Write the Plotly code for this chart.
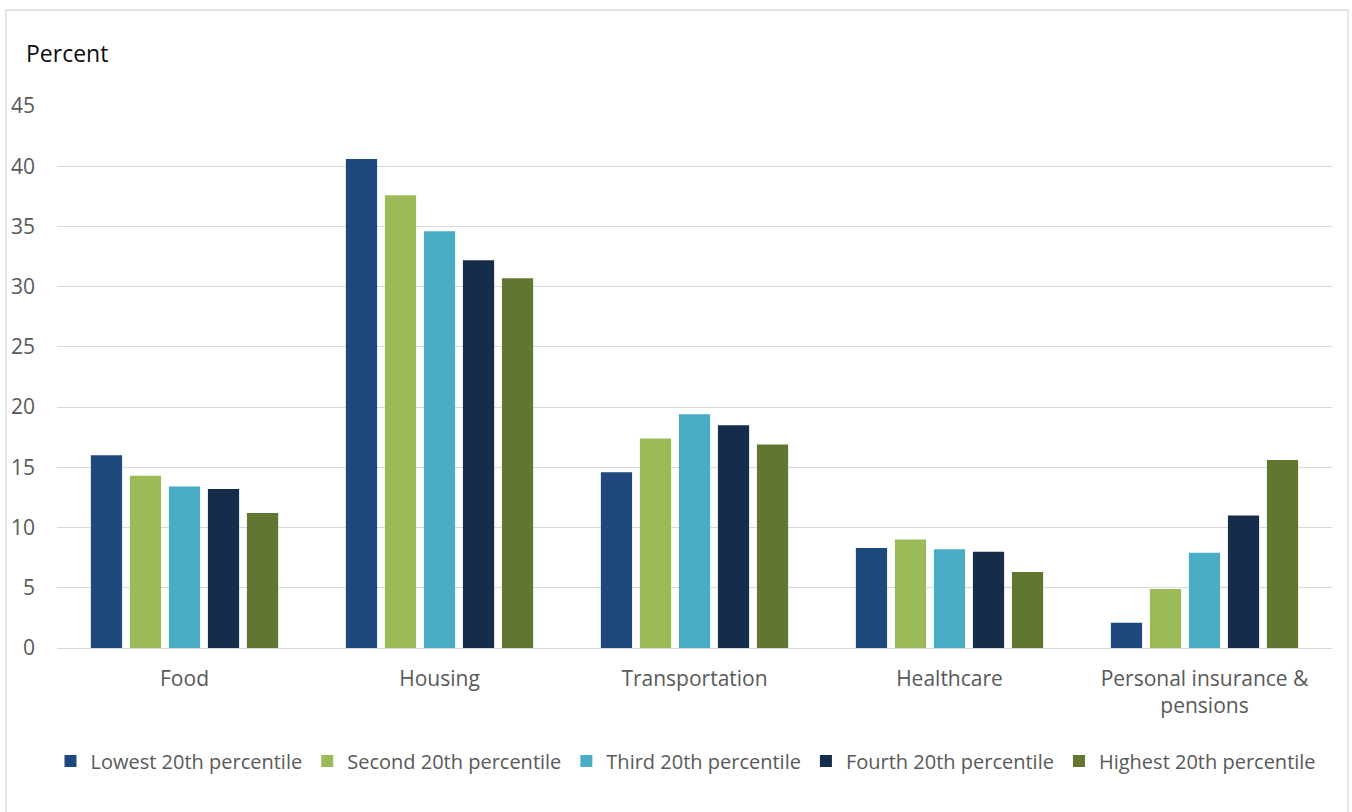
import plotly.graph_objects as go

categories = ["Food", "Housing", "Transportation", "Healthcare", "Personal insurance &<br>pensions"]
series_names = ["Lowest 20th percentile", "Second 20th percentile", "Third 20th percentile",
                "Fourth 20th percentile", "Highest 20th percentile"]
lowest = [16.0, 40.6, 14.6, 8.3, 2.1]
second = [14.3, 37.6, 17.4, 9.0, 4.9]
third = [13.4, 34.6, 19.4, 8.2, 7.9]
fourth = [13.2, 32.2, 18.5, 8.0, 11.0]
highest = [11.2, 30.7, 16.9, 6.3, 15.6]
y_ticks = [0, 5, 10, 15, 20, 25, 30, 35, 40, 45]

colors = ["#1F497D", "#9BBB59", "#4BACC6", "#152D4B", "#617630"]
series = [lowest, second, third, fourth, highest]

FONT = "Open Sans, sans-serif"

fig = go.Figure()
for name, vals, col in zip(series_names, series, colors):
    fig.add_trace(go.Bar(x=categories, y=vals, name=name,
                         marker=dict(color=col, line=dict(width=0))))

W, H = 1352, 812
L, R, T, B = 57, 20, 106, 164
pw = W - L - R
ph = H - T - B

def px_x(px):
    return (px - L) / pw

def px_y(py):
    return (H - B - py) / ph

fig.update_layout(
    width=W, height=H,
    margin=dict(l=L, r=R, t=T, b=B, pad=0),
    paper_bgcolor="white", plot_bgcolor="white",
    barmode="group", bargap=0.235, bargroupgap=0.2,
    font=dict(family=FONT, color="#595959", size=20),
    showlegend=True,
    legend=dict(orientation="h", x=px_x(686), xanchor="center",
                y=px_y(761), yanchor="middle",
                font=dict(family=FONT, size=20, color="#595959"),
                traceorder="normal", itemwidth=30),
    xaxis=dict(showgrid=False, showline=False, ticks="",
               tickfont=dict(family=FONT, size=21, color="#595959"),
               ticklabelstandoff=16),
    yaxis=dict(range=[0, 45], tickvals=y_ticks, showgrid=True, gridcolor="#D9D9D9",
               gridwidth=1.3, zeroline=True, zerolinecolor="#D9D9D9", zerolinewidth=1.3,
               ticks="", showline=False,
               tickfont=dict(family=FONT, size=21, color="#595959"),
               ticklabelstandoff=21),
    annotations=[dict(text="Percent", xref="paper", yref="paper",
                      x=px_x(24), y=px_y(53), xanchor="left", yanchor="middle",
                      showarrow=False,
                      font=dict(family=FONT, size=23, color="#0D0D0D"))],
    shapes=[dict(type="rect", xref="paper", yref="paper",
                 x0=px_x(6), x1=px_x(1348), y0=px_y(10), y1=px_y(830),
                 line=dict(color="#D9D9D9", width=1.3), fillcolor="rgba(0,0,0,0)",
                 layer="below")],
)

fig.write_html("out.html")
